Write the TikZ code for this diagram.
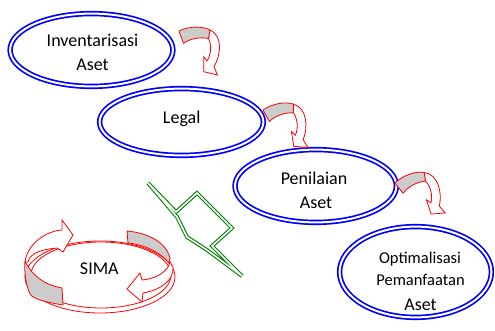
\documentclass[tikz,border=0pt]{standalone}
\usepackage{fontspec}
\setmainfont{Carlito}
\usetikzlibrary{shapes.geometric}
\begin{document}
\begin{tikzpicture}[x=1pt,y=-1pt,
  blob/.style={ellipse, draw=blue, double=white, line width=1.7pt, double distance=2pt, inner sep=0pt},
  lbl/.style={anchor=base, font=\fontsize{18}{22}\selectfont, inner sep=0pt},
  lbls/.style={lbl, font=\fontsize{16.5}{20}\selectfont},
  band/.style={draw=red, fill=gray!40, line width=0.8pt, line join=round},
  shaft/.style={draw=red, fill=white, line width=0.8pt, line join=miter},
  bolt/.style={draw=green!50!black, double=white, line width=1.1pt, double distance=1.6pt, line join=miter},
  ring/.style={draw=red, line width=0.8pt},
  curvarrow/.pic={
    \path[shaft] (31,-1) .. controls (44,5) and (42,24) .. (35,35.7) -- (38.5,44) -- (24.7,40.7) -- (24.7,25.7) -- (28,30) .. controls (32,24) and (33,14) .. (29.5,7.5) -- cycle;
    \path[band] (0,0) .. controls (10,-5) and (24,-5) .. (31,-1) -- (29.5,7.5) .. controls (22,6) and (12,7) .. (4.5,12.3) -- cycle;
  }
]
\fill[white] (0,0) rectangle (495,331);
\useasboundingbox (0,0) rectangle (495,331);

% ellipses
\node[blob, minimum width=162.8, minimum height=72.8] (e1) at (91.5,50) {};
\node[blob, minimum width=163.8, minimum height=66.8] (e2) at (181.5,122) {};
\node[blob, minimum width=161.4, minimum height=72.8] (e3) at (315.7,186) {};
\node[blob, minimum width=151.8, minimum height=90.8] (e4) at (415.5,272) {};

% labels
\node[lbl] (t1a) at (92.5,46.7) {Inventarisasi};
\node[lbl] (t1b) at (92.5,70.7) {Aset};
\node[lbl] (t2) at (181.7,124) {Legal};
\node[lbl] (t3a) at (314,185) {Penilaian};
\node[lbl] (t3b) at (316,208.3) {Aset};
\node[lbls] (t4a) at (420,263.3) {Optimalisasi};
\node[lbls] (t4b) at (420.5,285.7) {Pemanfaatan};
\node[lbl] (t4c) at (420.5,310) {Aset};

% curved arrows
\pic (a1) at (179,31) {curvarrow};
\pic[rotate=9] (a2) at (263,110) {curvarrow};
\pic[rotate=18] (a3) at (395,183) {curvarrow};

% lightning bolt
\draw[bolt] (148,183) -- (176,212) -- (197,193) -- (232,228) -- (212,246) -- (242,276) -- (207,250) -- (187,237) -- (177,217) -- cycle;

% SIMA cycle
\draw[ring] (100,277) ellipse [x radius=75, y radius=36];
\draw[ring] (101,275) ellipse [x radius=70, y radius=33];
\path[shaft] (28,262) .. controls (30,252) and (45,249) .. (57,248) -- (63,252) -- (73,235) -- (62,220) -- (62,230) .. controls (45,231) and (27,245) .. (25,262) -- cycle;
\path[band] (25,261) .. controls (32,276) and (45,285) .. (62,288) -- (63,305) .. controls (45,302) and (33,299) .. (30,294) .. controls (26,285) and (24,272) .. (25,261) -- cycle;
\path[band] (127,231) .. controls (148,233) and (166,242) .. (170,258) -- (169,263) .. controls (160,252) and (145,245) .. (128,243) -- cycle;
\path[shaft] (170,262) .. controls (168,272) and (155,279) .. (142,280) -- (140,273) -- (127,289) -- (142,302) -- (143,293) .. controls (160,290) and (174,281) .. (173,267) -- cycle;
\node[lbl] (sima) at (99.3,274.3) {SIMA};
\end{tikzpicture}
\end{document}
